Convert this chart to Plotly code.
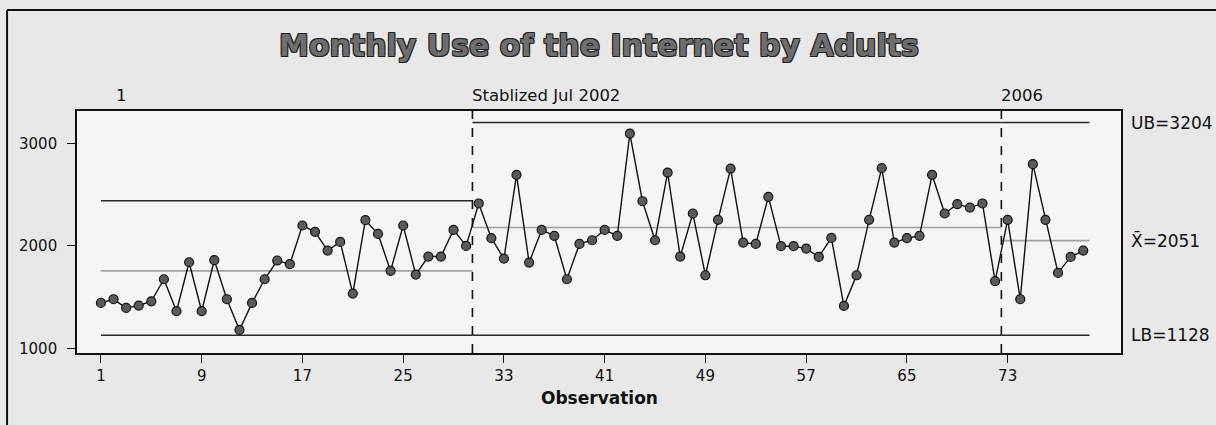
import plotly.graph_objects as go

# ---- data ----
observation = list(range(1, 80))
usage = [1443, 1479, 1394, 1417, 1459, 1674, 1362, 1840, 1362, 1860,
         1479, 1179, 1443, 1674, 1857, 1821, 2199, 2137, 1954, 2039,
         1534, 2251, 2117, 1756, 2199, 1720, 1896, 1896, 2156, 2000,
         2414, 2075, 1876, 2694, 1837, 2156, 2098, 1674, 2019, 2055,
         2156, 2098, 3097, 2436, 2055, 2716, 1896, 2316, 1713, 2254,
         2755, 2032, 2019, 2479, 1997, 1997, 1974, 1892, 2078, 1414,
         1713, 2254, 2759, 2032, 2075, 2098, 2694, 2316, 2407, 2374,
         2414, 1655, 2254, 1479, 2798, 2254, 1736, 1892, 1954]

stage_labels = ["1", "Stablized Jul 2002", "2006"]
stage_first = [1, 31, 73]
stage_last = [30, 72, 79]
stage_center = [1756, 2180, 2051]
stage_upper = [2440, 3204, 3204]
stage_lower = [1128, 1128, 1128]

right_labels = ["UB=3204", "X\u0304=2051", "LB=1128"]
right_values = [3204, 2051, 1128]

x_ticks = [1, 9, 17, 25, 33, 41, 49, 57, 65, 73]
y_ticks = [1000, 2000, 3000]

FONT = "DejaVu Sans"
fig = go.Figure()

# stage limit / center lines
for i in range(len(stage_labels)):
    x0 = stage_first[i] if i == 0 else stage_first[i] - 0.5
    x1 = stage_last[i] + 0.5
    fig.add_trace(go.Scatter(x=[x0, x1], y=[stage_upper[i]] * 2, mode="lines",
                             line=dict(color="#2a2a2a", width=1.6), hoverinfo="skip"))
    fig.add_trace(go.Scatter(x=[x0, x1], y=[stage_lower[i]] * 2, mode="lines",
                             line=dict(color="#2a2a2a", width=1.6), hoverinfo="skip"))
    fig.add_trace(go.Scatter(x=[x0, x1], y=[stage_center[i]] * 2, mode="lines",
                             line=dict(color="#a0a0a0", width=1.6), hoverinfo="skip"))

# stage boundaries
for i in range(1, len(stage_labels)):
    xb = stage_first[i] - 0.5
    fig.add_shape(type="line", xref="x", yref="y domain", x0=xb, x1=xb, y0=0, y1=1,
                  line=dict(color="#111", width=1.6, dash="dash"))

# data series
fig.add_trace(go.Scatter(x=observation, y=usage, mode="lines+markers",
                         line=dict(color="#111", width=1.4),
                         marker=dict(size=9, color="#5a5a5a", line=dict(color="#111", width=1.2))))

# stage labels
for i, lab in enumerate(stage_labels):
    xl = stage_first[i] + 1.0 if i == 0 else stage_first[i] - 0.7
    fig.add_annotation(x=xl, y=1.066, xref="x", yref="paper", text=lab, showarrow=False,
                       xanchor="left", yanchor="middle", font=dict(family=FONT, size=16.5, color="#111"))

# right-hand labels
for lab, v in zip(right_labels, right_values):
    fig.add_annotation(x=1, y=v, xref="paper", yref="y", text=lab, showarrow=False,
                       xanchor="left", yanchor="middle", xshift=8,
                       font=dict(family=FONT, size=17, color="#111"))

# axis title
fig.add_annotation(x=0.5, y=0, xref="paper", yref="paper", text="<b>Observation</b>",
                   showarrow=False, yshift=-45, xanchor="center", yanchor="middle",
                   font=dict(family=FONT, size=17, color="#111"))

# outer frame (left and top edges visible)
fig.add_shape(type="line", xref="paper", yref="paper", x0=-0.067, x1=1.2, y0=1.417, y1=1.417,
              line=dict(color="#111", width=2))
fig.add_shape(type="line", xref="paper", yref="paper", x0=-0.067, x1=-0.067, y0=-0.4, y1=1.417,
              line=dict(color="#111", width=2))

fig.update_layout(
    width=1216, height=425,
    margin=dict(l=77, r=95, t=111, b=72),
    paper_bgcolor="#e8e8e8", plot_bgcolor="#f5f5f5",
    showlegend=False,
    title=dict(text="<b>Monthly Use of the Internet by Adults</b>", x=0.5, xref="paper",
               xanchor="center", y=1 - 45 / 425, yanchor="middle",
               font=dict(family=FONT, size=30, color="#6e6e6e",
                         shadow="-1px -1px 0 #222, 1px -1px 0 #222, -1px 1px 0 #222, 1px 1px 0 #222")),
)
fig.update_xaxes(range=[-0.9, 82.0], tickvals=x_ticks, ticks="outside", ticklen=8,
                 tickcolor="#111", showline=True, linecolor="#111", linewidth=1.6, mirror=True,
                 showgrid=False, zeroline=False,
                 tickfont=dict(family=FONT, size=15, color="#111"))
fig.update_yaxes(range=[954, 3317], tickvals=y_ticks, ticks="outside", ticklen=8,
                 tickcolor="#111", showline=True, linecolor="#111", linewidth=1.6, mirror=True,
                 showgrid=False, zeroline=False, ticklabelstandoff=7,
                 tickfont=dict(family=FONT, size=15, color="#111"))

fig.write_html("out.html", config={"displayModeBar": False},
               post_script="document.body.style.margin='0';document.body.style.background='#e8e8e8';")
